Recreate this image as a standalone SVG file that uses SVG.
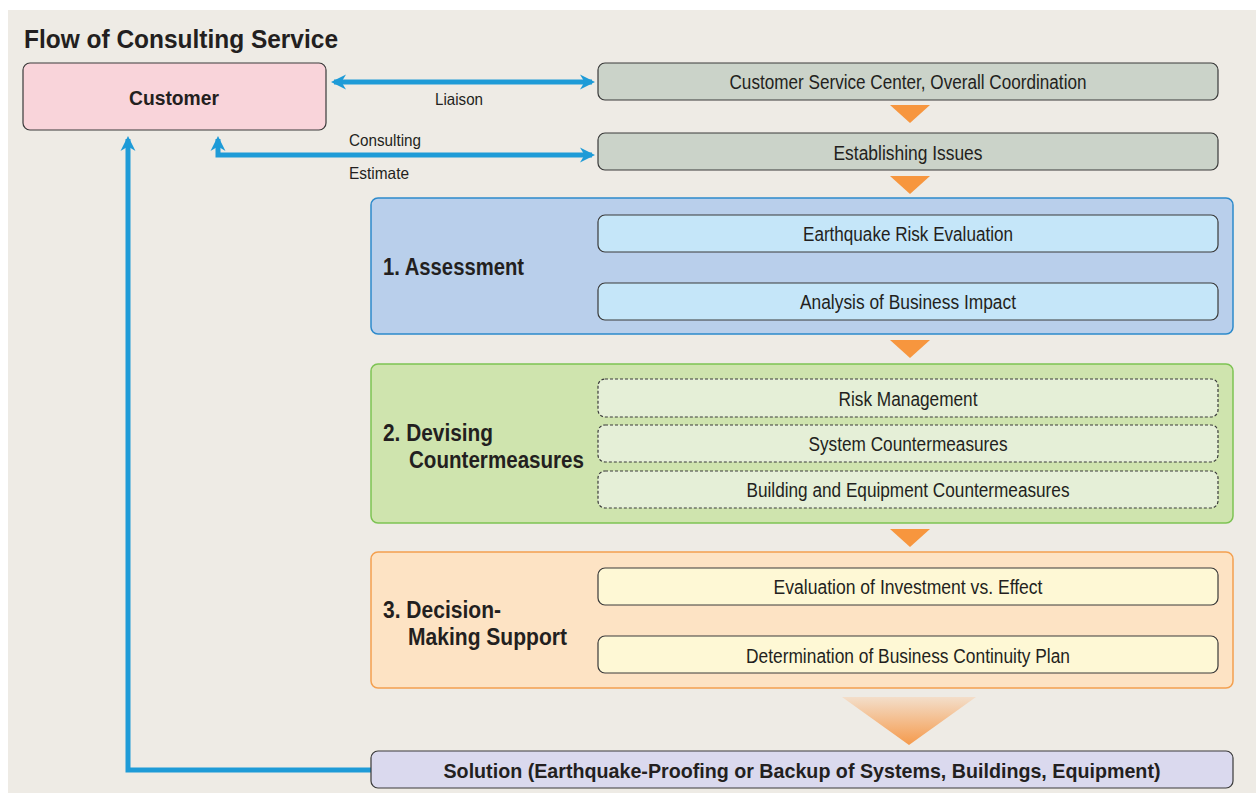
<svg xmlns="http://www.w3.org/2000/svg" width="1256" height="793" viewBox="0 0 1256 793">
<defs>
<style>
.t{font-family:"Liberation Sans",Arial,sans-serif;fill:#231F20}
.b{font-weight:bold}
.c{text-anchor:middle}
.box{stroke:#3A3A3A;stroke-width:1.2}
.grey{fill:#CBD3C9}
.lb{fill:#C5E6F9}
.lg{fill:#E5EFD7;stroke:#3A3A3A;stroke-width:1.2;stroke-dasharray:3 2}
.ly{fill:#FEF8D5}
.tri{fill:#F7963E}
.conn{fill:none;stroke:#1E9BD7;stroke-width:5}
</style>
<marker id="ah" viewBox="0 0 10 10" refX="8" refY="5" markerWidth="3" markerHeight="3.2" orient="auto-start-reverse" markerUnits="strokeWidth">
<path d="M0,0 L10,5 L0,10 L3,5 Z" fill="#1E9BD7"/>
</marker>
<linearGradient id="gt" x1="0" y1="0" x2="0" y2="1">
<stop offset="0" stop-color="#F3DECA"/>
<stop offset="1" stop-color="#F59A4C"/>
</linearGradient>
</defs>
<rect x="0" y="0" width="1256" height="793" fill="#FFFFFF"/>
<rect x="8" y="10" width="1248" height="783" fill="#EEEBE5"/>
<text class="t b" x="24" y="48" font-size="26.5" textLength="314" lengthAdjust="spacingAndGlyphs">Flow of Consulting Service</text>

<g id="connectors">
<path class="conn" d="M334,82 L592,82" marker-start="url(#ah)" marker-end="url(#ah)"/>
<path class="conn" d="M218,139 L218,155 L592,155" marker-start="url(#ah)" marker-end="url(#ah)"/>
<path class="conn" d="M371,770 L128,770 L128,139" marker-end="url(#ah)"/>
<text class="t" x="435" y="105" font-size="16.5" textLength="48" lengthAdjust="spacingAndGlyphs">Liaison</text>
<text class="t" x="349" y="146" font-size="16.5" textLength="72" lengthAdjust="spacingAndGlyphs">Consulting</text>
<text class="t" x="349" y="179" font-size="16.5" textLength="60" lengthAdjust="spacingAndGlyphs">Estimate</text>
<polygon class="tri" points="890,105 930,105 910,123"/>
<polygon class="tri" points="890,176 930,176 910,194"/>
<polygon class="tri" points="890,257 930,257 910,275"/>
<polygon class="tri" points="890,340 930,340 910,358"/>
<polygon class="tri" points="890,529 930,529 910,547"/>
<polygon class="tri" points="890,611 930,611 910,629"/>
<polygon points="842,697 976,697 909,745" fill="url(#gt)"/>
</g>

<g id="customer">
<rect class="box" x="23" y="63" width="303" height="67" rx="7" fill="#F9D4DA"/>
<text class="t b c" x="174" y="105" font-size="21" textLength="90" lengthAdjust="spacingAndGlyphs">Customer</text>
</g>

<g id="service-center">
<rect class="box grey" x="598" y="63" width="620" height="37" rx="7"/>
<text class="t c" x="908" y="89" font-size="19.5" textLength="357" lengthAdjust="spacingAndGlyphs">Customer Service Center, Overall Coordination</text>
</g>

<g id="establishing">
<rect class="box grey" x="598" y="133" width="620" height="37" rx="7"/>
<text class="t c" x="908" y="160" font-size="19.5" textLength="149" lengthAdjust="spacingAndGlyphs">Establishing Issues</text>
</g>

<g id="assessment">
<rect x="371" y="198" width="862" height="136" rx="7" fill="#B9CFEB" stroke="#2D8ACB" stroke-width="1.5"/>
<text class="t b" x="383" y="275" font-size="23" textLength="141" lengthAdjust="spacingAndGlyphs">1. Assessment</text>
<g id="risk-eval">
<rect class="box lb" x="598" y="215" width="620" height="37" rx="7"/>
<text class="t c" x="908" y="241" font-size="19.5" textLength="210" lengthAdjust="spacingAndGlyphs">Earthquake Risk Evaluation</text>
</g>
<g id="business-impact">
<rect class="box lb" x="598" y="283" width="620" height="37" rx="7"/>
<text class="t c" x="908" y="309" font-size="19.5" textLength="216" lengthAdjust="spacingAndGlyphs">Analysis of Business Impact</text>
</g>
</g>

<g id="devising">
<rect x="371" y="364" width="862" height="159" rx="7" fill="#CFE4AE" stroke="#7DC353" stroke-width="1.5"/>
<text class="t b" x="383" y="441" font-size="23" textLength="110" lengthAdjust="spacingAndGlyphs">2. Devising</text>
<text class="t b" x="409" y="468" font-size="23" textLength="175" lengthAdjust="spacingAndGlyphs">Countermeasures</text>
<g id="risk-mgmt">
<rect class="lg" x="598" y="379" width="620" height="38" rx="7"/>
<text class="t c" x="908" y="406" font-size="19.5" textLength="139" lengthAdjust="spacingAndGlyphs">Risk Management</text>
</g>
<g id="system-cm">
<rect class="lg" x="598" y="425" width="620" height="37" rx="7"/>
<text class="t c" x="908" y="451" font-size="19.5" textLength="199" lengthAdjust="spacingAndGlyphs">System Countermeasures</text>
</g>
<g id="building-cm">
<rect class="lg" x="598" y="471" width="620" height="37" rx="7"/>
<text class="t c" x="908" y="497" font-size="19.5" textLength="323" lengthAdjust="spacingAndGlyphs">Building and Equipment Countermeasures</text>
</g>
</g>

<g id="decision">
<rect x="371" y="552" width="862" height="136" rx="7" fill="#FDE3C4" stroke="#F4A04F" stroke-width="1.5"/>
<text class="t b" x="383" y="618" font-size="23" textLength="118" lengthAdjust="spacingAndGlyphs">3. Decision-</text>
<text class="t b" x="408" y="645" font-size="23" textLength="159" lengthAdjust="spacingAndGlyphs">Making Support</text>
<g id="investment">
<rect class="box ly" x="598" y="568" width="620" height="37" rx="7"/>
<text class="t c" x="908" y="594" font-size="19.5" textLength="269" lengthAdjust="spacingAndGlyphs">Evaluation of Investment vs. Effect</text>
</g>
<g id="bcp">
<rect class="box ly" x="598" y="636" width="620" height="37" rx="7"/>
<text class="t c" x="908" y="663" font-size="19.5" textLength="324" lengthAdjust="spacingAndGlyphs">Determination of Business Continuity Plan</text>
</g>
</g>

<g id="solution">
<rect class="box" x="371" y="751" width="862" height="37" rx="7" fill="#DAD9EE"/>
<text class="t b c" x="802" y="778" font-size="21" textLength="717" lengthAdjust="spacingAndGlyphs">Solution (Earthquake-Proofing or Backup of Systems, Buildings, Equipment)</text>
</g>
</svg>
